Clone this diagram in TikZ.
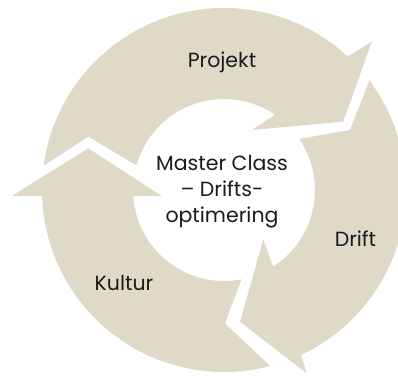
\documentclass[tikz,border=0pt]{standalone}
\usepackage{fontspec}
\setmainfont{Poppins}
\definecolor{beige}{HTML}{DFDAC8}
\definecolor{txt}{HTML}{1A1A1A}
\begin{document}
\begin{tikzpicture}[x=1pt,y=1pt,
  band/.style={fill=beige,draw=none},
  lbl/.style={text=txt,font=\fontsize{20.5}{26}\selectfont,inner sep=0pt,anchor=base}]
\clip (-224,-185) rectangle (174,190);
% Projekt arrow
\fill[band] (172.3:182pt) arc[start angle=172.3, end angle=47.2, radius=182pt]
  -- (147.7,148.3) -- (119.3,68.3) -- (27.7,60) -- (55.8:91pt)
  arc[start angle=55.8, end angle=164.3, radius=91pt] -- (-135.7,53.3) -- cycle;
% Drift arrow
\fill[band] (37:182pt) arc[start angle=37, end angle=-65, radius=182pt]
  -- (82.7,-183.3) -- (16,-131.7) -- (39.3,-49.3) -- (-57.3:91pt)
  arc[start angle=-57.3, end angle=34.2, radius=91pt] -- (126,60) -- cycle;
% Kultur arrow
\fill[band] (-75.3:182pt) arc[start angle=-75.3, end angle=-178.1, radius=182pt]
  -- (-212.3,-6) -- (-135.7,41.7) -- (-62.3,-6) -- (-176.2:91pt)
  arc[start angle=-176.2, end angle=-78.9, radius=91pt] -- (1,-133.3) -- cycle;
\node[lbl] (projekt) at (-2,122) {Projekt};
\node[lbl] (drift) at (131.5,-56) {Drift};
\node[lbl] (kultur) at (-100,-100.7) {Kultur};
\node[lbl,align=center] (center) at (-2,-32) {Master Class\\– Drifts-\\optimering};
\end{tikzpicture}
\end{document}
